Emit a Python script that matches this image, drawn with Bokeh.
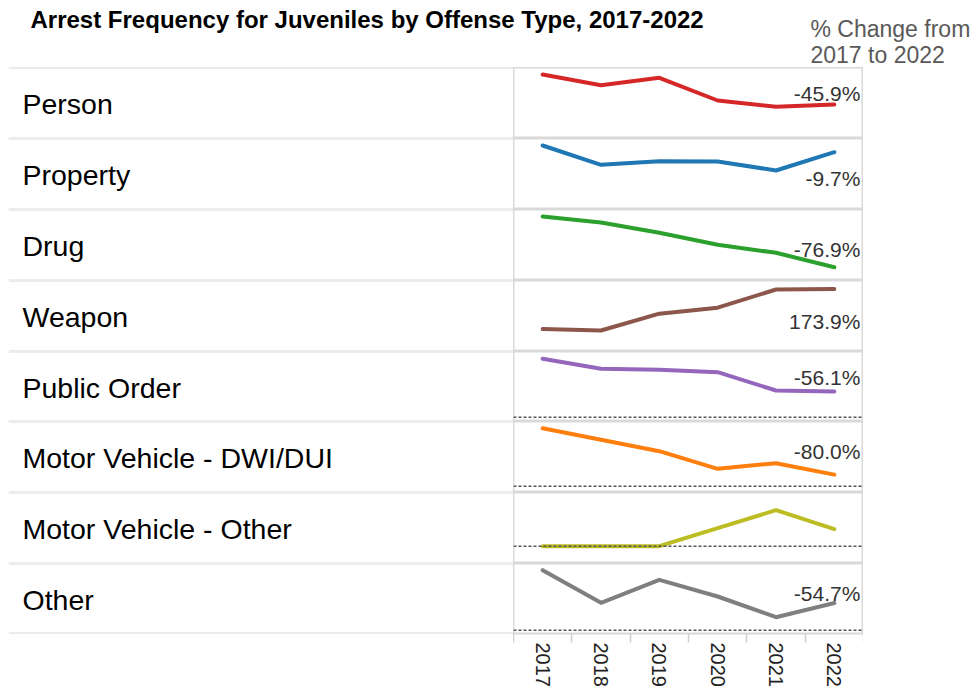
from bokeh.plotting import figure
from bokeh.models import Range1d, Span, FixedTicker, LinearAxis
from bokeh.layouts import column, row
from bokeh.embed import file_html
from bokeh.resources import INLINE
from bokeh.core.properties import value

# ---------------- data ----------------
years = ["2017", "2018", "2019", "2020", "2021", "2022"]
offense_types = ["Person", "Property", "Drug", "Weapon", "Public Order",
                 "Motor Vehicle - DWI/DUI", "Motor Vehicle - Other", "Other"]
person = [2616, 2188, 2484, 1576, 1324, 1415]
property_ = [2760, 1988, 2132, 2120, 1760, 2492]
drug = [1318, 1198, 992, 752, 592, 304]
weapon = [115, 108, 192, 222, 313, 315]
public_order = [1170, 968, 948, 900, 534, 514]
mv_dwi = [580, 464, 350, 174, 230, 116]
mv_other = [0, 0, 0, 18, 36, 17]
other = [600, 274, 504, 337, 130, 272]
pct_change_labels = ["-45.9%", "-9.7%", "-76.9%", "173.9%", "-56.1%", "-80.0%", "", "-54.7%"]
title_text = "Arrest Frequency for Juveniles by Offense Type, 2017-2022"
header_lines = ["% Change from", "2017 to 2022"]

series = [person, property_, drug, weapon, public_order, mv_dwi, mv_other, other]

# ---------------- styles / layout ----------------
colors = ["#d62728", "#1f77b4", "#2ca02c", "#8c564b", "#9467bd", "#ff7f0e", "#bcbd22", "#7f7f7f"]
row_heights = [71, 71, 71, 71, 70, 71, 71, 70]
y_limits = [(56, 2896), (200, 3040), (38, 1458), (3, 358),
            (-86, 1314), (-63, 647), (-17.3, 53.7), (-33, 667)]
label_dy = [-11, 26, -17.5, 32, -14, -23, 0, -10]
FONT = value("Liberation Sans")
GRID = "#d9d9d9"
HEADER_H = 67
AXIS_H = 56
LEFT_PAD = 8
LABEL_W = 513
CHART_W = 350

# year slots on a linear band scale: one unit per year, year at slot centre
x_pos = [k + 0.5 for k in range(len(years))]


def bare(fig):
    fig.grid.visible = False
    fig.outline_line_color = None
    fig.background_fill_color = "white"
    fig.border_fill_color = "white"
    return fig


# header: title and "% Change" column header
header = bare(figure(width=973, height=HEADER_H, x_range=Range1d(0, 973), y_range=Range1d(HEADER_H, 0),
                     output_backend="svg", toolbar_location=None, min_border=0,
                     x_axis_location=None, y_axis_location=None))
header.text(x=[30], y=[19], text=[title_text], text_font=FONT, text_font_size="24px",
            text_font_style="bold", text_color="#000000", text_baseline="alphabetic")
header.text(x=[810, 810], y=[28, 54], text=header_lines, text_font=FONT, text_font_size="23px",
            text_color="#595959", text_baseline="alphabetic")

rows = []
n = len(offense_types)
for i in range(n):
    last = i == n - 1
    rh = row_heights[i]
    H = rh + (AXIS_H if last else 0)
    mb = AXIS_H if last else 0

    lw = LABEL_W - LEFT_PAD
    lf = bare(figure(width=LABEL_W, height=H, x_range=Range1d(0, lw), y_range=Range1d(0, rh),
                     output_backend="svg", toolbar_location=None, min_border=0,
                     min_border_left=LEFT_PAD, min_border_bottom=mb,
                     x_axis_location=None, y_axis_location=None))
    lf.text(x=[14], y=[rh / 2 - 1], text=[offense_types[i]], text_font=FONT, text_font_size="28.5px",
            text_color="#000000", text_baseline="middle", text_align="left")
    lf.add_layout(Span(location=rh, dimension="width", line_color=GRID, line_width=2))
    lf.add_layout(Span(location=0, dimension="width", line_color=GRID, line_width=2))

    cf = figure(width=CHART_W, height=H, x_range=Range1d(0, len(years)),
                y_range=Range1d(*y_limits[i]), output_backend="svg", toolbar_location=None,
                min_border=0, min_border_bottom=mb, x_axis_location=None, y_axis_location=None)
    cf.grid.visible = False
    cf.outline_line_color = GRID
    cf.outline_line_width = 2
    cf.border_fill_color = "white"

    if y_limits[i][0] < 0:
        cf.add_layout(Span(location=0, dimension="width", line_color="#555555",
                           line_width=1.5, line_dash="3 2"))

    cf.line(x=x_pos, y=series[i], line_color=colors[i], line_width=4,
            line_cap="round", line_join="round")
    if pct_change_labels[i]:
        cf.text(x=[x_pos[-1]], y=[series[i][-1]], text=[pct_change_labels[i]],
                x_offset=26, y_offset=label_dy[i], text_align="right", text_baseline="middle",
                text_font=FONT, text_font_size="21px", text_color="#333333")

    if last:
        ticker = FixedTicker(ticks=x_pos, minor_ticks=list(range(len(years) + 1)))
        ax = LinearAxis(ticker=ticker,
                        major_label_overrides={p: y for p, y in zip(x_pos, years)})
        ax.axis_line_color = None
        ax.major_tick_line_color = None
        ax.major_tick_out = 0
        ax.major_tick_in = 0
        ax.minor_tick_line_color = "#cfcfcf"
        ax.minor_tick_line_width = 1.5
        ax.minor_tick_in = 0
        ax.minor_tick_out = 9
        ax.major_label_orientation = "vertical"
        ax.major_label_standoff = 0
        ax.axis_label_standoff = 0
        ax.major_label_text_font = "Liberation Sans"
        ax.major_label_text_font_size = "20px"
        ax.major_label_text_color = "#222222"
        cf.add_layout(ax, "below")

    rows.append(row(lf, cf, spacing=0))

layout = column(header, *rows, spacing=0)
open("out.html", "w").write(file_html(layout, INLINE))
